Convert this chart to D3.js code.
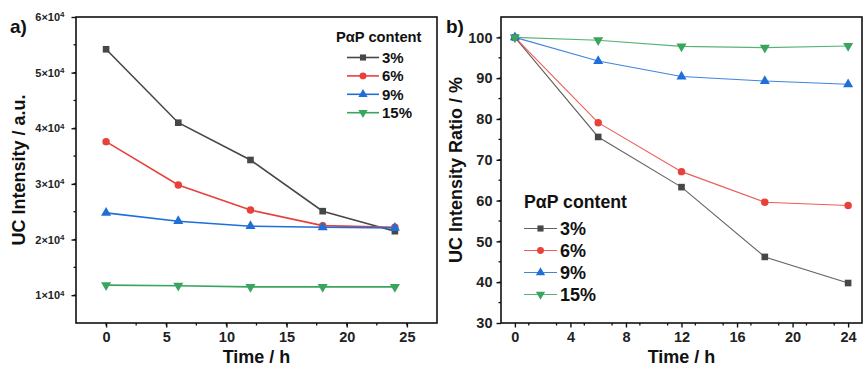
<!DOCTYPE html>
<html>
<head>
<meta charset="utf-8">
<script src="https://cdn.jsdelivr.net/npm/d3@7"></script>
<style>
  html, body { margin: 0; padding: 0; background: #fff; }
  svg { display: block; font-family: "Liberation Sans", Arial, sans-serif; }
</style>
</head>
<body>
<svg id="chart" width="864" height="370"></svg>
<script>
// Sampling times (h)
const times = [0, 6, 12, 18, 24];
// PaP content series
const seriesNames = ["3%", "6%", "9%", "15%"];
const seriesColors = ["#474747", "#e8403b", "#1f6fd8", "#3aa55e"];
const seriesShapes = ["square", "circle", "triangle", "triangleDown"];

// Panel a: absolute UC intensity (a.u.)
const intensity3 = [54200, 41000, 34300, 25100, 21500];
const intensity6 = [37600, 29800, 25300, 22500, 22200];
const intensity9 = [24800, 23300, 22400, 22200, 22100];
const intensity15 = [11800, 11700, 11500, 11500, 11500];

// Panel b: UC intensity ratio (%)
const ratio3 = [100, 75.6, 63.3, 46.2, 39.8];
const ratio6 = [100, 79.1, 67.1, 59.6, 58.8];
const ratio9 = [100, 94.2, 90.4, 89.3, 88.5];
const ratio15 = [100, 99.3, 97.8, 97.5, 97.9];

// Tick values
const aXTicks = [0, 5, 10, 15, 20, 25];
const aYTicks = [10000, 20000, 30000, 40000, 50000, 60000];
const bXTicks = [0, 4, 8, 12, 16, 20, 24];
const bYTicks = [30, 40, 50, 60, 70, 80, 90, 100];

const svg = d3.select("#chart");

function markerPath(shape, size) {
  const map = {
    square: d3.symbolSquare,
    circle: d3.symbolCircle,
    triangle: d3.symbolTriangle,
    triangleDown: d3.symbolTriangle
  };
  return d3.symbol().type(map[shape]).size(size)();
}

function drawPanel(cfg) {
  const g = svg.append("g");
  const x = d3.scaleLinear().domain(cfg.xDomain).range([cfg.left, cfg.right]);
  const y = d3.scaleLinear().domain(cfg.yDomain).range([cfg.bottom, cfg.top]);

  // frame
  g.append("rect")
    .attr("x", cfg.left).attr("y", cfg.top)
    .attr("width", cfg.right - cfg.left).attr("height", cfg.bottom - cfg.top)
    .attr("fill", "none").attr("stroke", "#111").attr("stroke-width", 1.6);

  // minor ticks
  const xMinor = d3.range(cfg.xMinorStart, cfg.xDomain[1] + 1e-9, cfg.xMinorStep)
    .filter(v => v > cfg.xDomain[0] && v < cfg.xDomain[1]);
  g.selectAll(null).data(xMinor).join("line")
    .attr("x1", d => x(d)).attr("x2", d => x(d))
    .attr("y1", cfg.bottom).attr("y2", cfg.bottom + 2.5)
    .attr("stroke", "#111").attr("stroke-width", 1.3);
  const yMinor = d3.range(cfg.yMinorStart, cfg.yDomain[1] + 1e-9, cfg.yMinorStep)
    .filter(v => v > cfg.yDomain[0] && v < cfg.yDomain[1]);
  g.selectAll(null).data(yMinor).join("line")
    .attr("y1", d => y(d)).attr("y2", d => y(d))
    .attr("x1", cfg.left).attr("x2", cfg.left - 2.5)
    .attr("stroke", "#111").attr("stroke-width", 1.3);

  // major axes
  const xAxis = d3.axisBottom(x).tickValues(cfg.xTicks).tickSize(4.5).tickSizeOuter(0).tickPadding(4);
  const gx = g.append("g").attr("transform", `translate(0,${cfg.bottom})`).call(xAxis);
  gx.select(".domain").remove();
  gx.selectAll(".tick line").attr("stroke", "#111").attr("stroke-width", 1.4);
  gx.selectAll(".tick text")
    .attr("font-size", cfg.xTickFont).attr("font-weight", "bold").attr("fill", "#222")
    .attr("font-family", "Liberation Sans, Arial, sans-serif");

  const yAxis = d3.axisLeft(y).tickValues(cfg.yTicks).tickSize(4.5).tickSizeOuter(0).tickPadding(cfg.yTickPad)
    .tickFormat(cfg.yFormat ? () => "" : d3.format("d"));
  const gy = g.append("g").attr("transform", `translate(${cfg.left},0)`).call(yAxis);
  gy.select(".domain").remove();
  gy.selectAll(".tick line").attr("stroke", "#111").attr("stroke-width", 1.4);
  gy.selectAll(".tick text")
    .attr("font-size", cfg.yTickFont).attr("font-weight", "bold").attr("fill", "#222")
    .attr("font-family", "Liberation Sans, Arial, sans-serif");
  if (cfg.yFormat) {
    gy.selectAll(".tick text").each(function(d) {
      const t = d3.select(this);
      t.text(null);
      t.append("tspan").text(`${Math.round(d / 10000)}×10`);
      t.append("tspan").attr("dy", "-0.45em").attr("font-size", cfg.yTickFont * 0.72).text("4");
    });
  }

  // series
  const line = d3.line().x(d => x(d[0])).y(d => y(d[1]));
  cfg.series.forEach((vals, i) => {
    const pts = times.map((t, k) => [t, vals[k]]);
    g.append("path").datum(pts)
      .attr("d", line).attr("fill", "none")
      .attr("stroke", seriesColors[i]).attr("stroke-width", cfg.lineWidth)
      .attr("stroke-opacity", cfg.lineOpacity);
  });
  cfg.series.forEach((vals, i) => {
    const pts = times.map((t, k) => [t, vals[k]]);
    g.selectAll(null).data(pts).join("path")
      .attr("d", markerPath(seriesShapes[i], cfg.markerSize))
      .attr("transform", d => `translate(${x(d[0])},${y(d[1])})${seriesShapes[i] === "triangleDown" ? " rotate(180)" : ""}`)
      .attr("fill", seriesColors[i]);
  });

  // axis titles
  g.append("text")
    .attr("x", (cfg.left + cfg.right) / 2).attr("y", cfg.xTitleY)
    .attr("text-anchor", "middle").attr("font-size", 18).attr("font-weight", "bold").attr("fill", "#111")
    .text("Time / h");
  g.append("text")
    .attr("transform", `translate(${cfg.yTitleX},${(cfg.top + cfg.bottom) / 2}) rotate(-90)`)
    .attr("text-anchor", "middle").attr("font-size", 18).attr("font-weight", "bold").attr("fill", "#111")
    .text(cfg.yTitle);

  // panel label
  g.append("text")
    .attr("x", cfg.labelX).attr("y", cfg.labelY)
    .attr("font-size", 19).attr("font-weight", "bold").attr("fill", "#111")
    .text(cfg.label);

  // legend
  const lg = g.append("g");
  lg.append("text")
    .attr("x", cfg.legX).attr("y", cfg.legY)
    .attr("font-size", cfg.legTitleFont).attr("font-weight", "bold").attr("fill", "#111")
    .text("PαP content");
  seriesNames.forEach((name, i) => {
    const ry = cfg.legY + cfg.legFirst + i * cfg.legGap;
    lg.append("line")
      .attr("x1", cfg.legLineX0).attr("x2", cfg.legLineX1)
      .attr("y1", ry).attr("y2", ry)
      .attr("stroke", seriesColors[i]).attr("stroke-width", cfg.lineWidth)
      .attr("stroke-opacity", cfg.lineOpacity);
    lg.append("path")
      .attr("d", markerPath(seriesShapes[i], cfg.markerSize * 0.85))
      .attr("transform", `translate(${(cfg.legLineX0 + cfg.legLineX1) / 2},${ry})${seriesShapes[i] === "triangleDown" ? " rotate(180)" : ""}`)
      .attr("fill", seriesColors[i]);
    lg.append("text")
      .attr("x", cfg.legLineX1 + 3).attr("y", ry)
      .attr("dy", "0.36em")
      .attr("font-size", cfg.legItemFont).attr("font-weight", "bold").attr("fill", "#111")
      .text(name);
  });
}

drawPanel({
  left: 76, right: 437, top: 17, bottom: 323,
  xDomain: [-2.5, 27.5], yDomain: [5000, 60000],
  xTicks: aXTicks, yTicks: aYTicks,
  xMinorStart: -2.5, xMinorStep: 2.5,
  yMinorStart: 5000, yMinorStep: 5000,
  xTickFont: 14.5, yTickFont: 11, yTickPad: 7, yFormat: true,
  series: [intensity3, intensity6, intensity9, intensity15],
  lineWidth: 1.6, lineOpacity: 1, markerSize: 44,
  xTitleY: 363, yTitleX: 25, yTitle: "UC Intensity / a.u.",
  label: "a)", labelX: 10, labelY: 33,
  legX: 336, legY: 42, legFirst: 15.5, legGap: 18.4,
  legLineX0: 347, legLineX1: 379, legTitleFont: 14.7, legItemFont: 15
});

drawPanel({
  left: 501, right: 862, top: 17, bottom: 323,
  xDomain: [-1, 25], yDomain: [30, 105],
  xTicks: bXTicks, yTicks: bYTicks,
  xMinorStart: -1, xMinorStep: 2,
  yMinorStart: 30, yMinorStep: 5,
  xTickFont: 14.5, yTickFont: 14.5, yTickPad: 4, yFormat: false,
  series: [ratio3, ratio6, ratio9, ratio15],
  lineWidth: 1.1, lineOpacity: 0.85, markerSize: 44,
  xTitleY: 363, yTitleX: 462, yTitle: "UC Intensity Ratio / %",
  label: "b)", labelX: 446, labelY: 33,
  legX: 524, legY: 208, legFirst: 20.5, legGap: 22,
  legLineX0: 524, legLineX1: 557, legTitleFont: 17.7, legItemFont: 18
});
</script>
</body>
</html>
